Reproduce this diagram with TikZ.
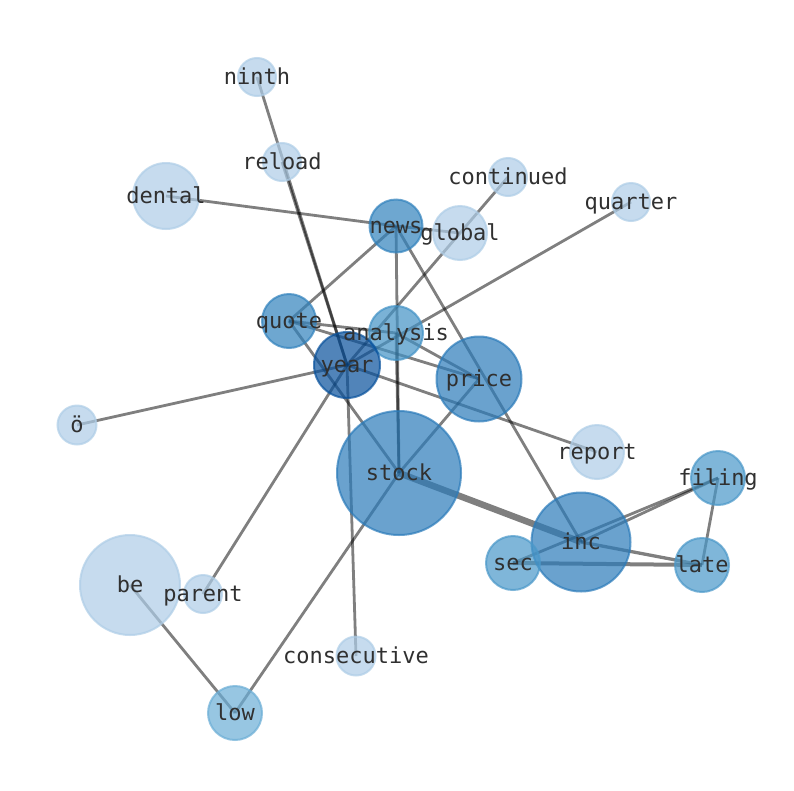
\documentclass[tikz,border=0pt]{standalone}
\usepackage{fontspec}
\setmonofont{DejaVu Sans Mono}
\pgfdeclarelayer{back}
\pgfdeclarelayer{edges}
\pgfsetlayers{back,edges,main}
\definecolor{cA}{HTML}{08519C}
\definecolor{cB}{HTML}{2B7BBA}
\definecolor{cC}{HTML}{3182BD}
\definecolor{cD}{HTML}{4292C6}
\definecolor{cE}{HTML}{4A98C9}
\definecolor{cF}{HTML}{6BAED6}
\definecolor{cG}{HTML}{AECDE7}
\definecolor{labelgray}{HTML}{303030}
\tikzset{
  vtx/.style={circle, inner sep=0pt, minimum size=#1, fill opacity=0.7, draw opacity=0.7, line width=2pt},
  lbl/.style={font=\ttfamily\fontsize{22}{24}\selectfont, text=labelgray, inner sep=0pt, anchor=base, yshift=-7pt},
  edge/.style={line width=2.8pt, draw=black, draw opacity=0.5},
}
\begin{document}
\begin{tikzpicture}[x=1pt,y=-1pt]
\begin{pgfonlayer}{back}
\fill[white] (0,0) rectangle (794,790);
\end{pgfonlayer}
\useasboundingbox (0,0) rectangle (794,790);
% nodes
\node[vtx=38pt, fill=cG, draw=cG] (ninth) at (257,77) {};
\node[vtx=38pt, fill=cG, draw=cG] (reload) at (282,162) {};
\node[vtx=66pt, fill=cG, draw=cG] (dental) at (166,196) {};
\node[vtx=38pt, fill=cG, draw=cG] (continued) at (508,177) {};
\node[vtx=38pt, fill=cG, draw=cG] (quarter) at (631,202) {};
\node[vtx=53pt, fill=cC, draw=cC] (news) at (396,226) {};
\node[vtx=54pt, fill=cG, draw=cG] (global) at (460,233) {};
\node[vtx=54pt, fill=cC, draw=cC] (quote) at (289,321) {};
\node[vtx=54pt, fill=cD, draw=cD] (analysis) at (396,333) {};
\node[vtx=66pt, fill=cA, draw=cA] (year) at (347,365) {};
\node[vtx=85pt, fill=cB, draw=cB] (price) at (479,379) {};
\node[vtx=39pt, fill=cG, draw=cG] (oe) at (77,425) {};
\node[vtx=54pt, fill=cG, draw=cG] (report) at (597,452) {};
\node[vtx=124pt, fill=cB, draw=cB] (stock) at (399,473) {};
\node[vtx=54pt, fill=cE, draw=cE] (filing) at (718,478) {};
\node[vtx=99pt, fill=cB, draw=cB] (inc) at (581,542) {};
\node[vtx=54pt, fill=cE, draw=cE] (sec) at (513,563) {};
\node[vtx=54pt, fill=cE, draw=cE] (late) at (702,565) {};
\node[vtx=100pt, fill=cG, draw=cG] (be) at (130,585) {};
\node[vtx=38pt, fill=cG, draw=cG] (parent) at (203,594) {};
\node[vtx=39pt, fill=cG, draw=cG] (consecutive) at (356,656) {};
\node[vtx=54pt, fill=cF, draw=cF] (low) at (235,713) {};
% edges
\begin{pgfonlayer}{edges}
\draw[edge] (ninth.center) -- (year.center);
\draw[edge] (reload.center) -- (year.center);
\draw[edge] (dental.center) -- (news.center);
\draw[edge] (news.center) -- (stock.center);
\draw[edge] (analysis.center) -- (stock.center);
\draw[edge] (news.center) -- (quote.center);
\draw[edge] (news.center) -- (inc.center);
\draw[edge] (news.center) -- (global.center);
\draw[edge] (continued.center) -- (year.center);
\draw[edge] (quarter.center) -- (year.center);
\draw[edge] (quote.center) -- (analysis.center);
\draw[edge] (quote.center) -- (price.center);
\draw[edge] (quote.center) -- (stock.center);
\draw[edge] (analysis.center) -- (price.center);
\draw[edge] (year.center) -- (report.center);
\draw[edge] (oe.center) -- (year.center);
\draw[edge] (price.center) -- (stock.center);
\draw[edge] (year.center) -- (consecutive.center);
\draw[edge] (year.center) -- (parent.center);
\draw[edge] (stock.center) -- (low.center);
\draw[edge] (be.center) -- (low.center);
\draw[edge, line width=6.5pt] (stock.center) -- (inc.center);
\draw[edge] (inc.center) -- (filing.center);
\draw[edge] (sec.center) -- (filing.center);
\draw[edge, line width=4pt] (sec.center) -- (late.center);
\draw[edge, line width=3.3pt] (inc.center) -- (late.center);
\draw[edge] (filing.center) -- (late.center);
\end{pgfonlayer}
% labels
\node[lbl] (l-ninth) at (ninth) {ninth};
\node[lbl] (l-reload) at (reload) {reload};
\node[lbl] (l-dental) at (dental) {dental};
\node[lbl] (l-continued) at (continued) {continued};
\node[lbl] (l-quarter) at (quarter) {quarter};
\node[lbl] (l-news) at (news) {news};
\node[lbl] (l-global) at (global) {global};
\node[lbl] (l-quote) at (quote) {quote};
\node[lbl] (l-analysis) at (analysis) {analysis};
\node[lbl] (l-year) at (year) {year};
\node[lbl] (l-price) at (price) {price};
\node[lbl] (l-oe) at (oe) {ö};
\node[lbl] (l-report) at (report) {report};
\node[lbl] (l-stock) at (stock) {stock};
\node[lbl] (l-filing) at (filing) {filing};
\node[lbl] (l-inc) at (inc) {inc};
\node[lbl] (l-sec) at (sec) {sec};
\node[lbl] (l-late) at (late) {late};
\node[lbl] (l-be) at (be) {be};
\node[lbl] (l-parent) at (parent) {parent};
\node[lbl] (l-consecutive) at (consecutive) {consecutive};
\node[lbl] (l-low) at (low) {low};
\end{tikzpicture}
\end{document}
